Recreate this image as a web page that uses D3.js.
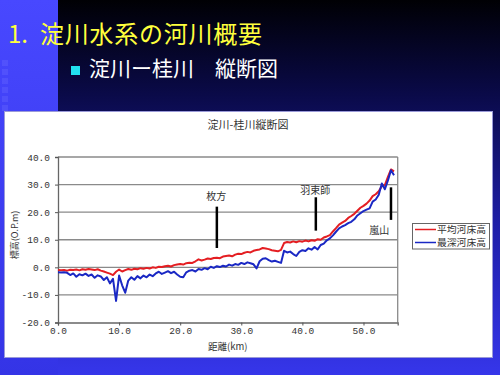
<!DOCTYPE html>
<meta charset="utf-8">
<html lang="ja">
<head>
<meta charset="utf-8">
<script src="https://d3js.org/d3.v7.min.js"></script>
<style>
  body { margin: 0; padding: 0; background: #000; }
  svg { display: block; }
</style>
</head>
<body>
<div id="chart"></div>
<script>
// distance from river mouth (km)
var km = [0,0.5,1,1.5,2,2.5,3,3.5,4,4.5,5,5.5,6,6.5,7,7.5,8,8.5,9,9.5,
  10,10.5,11,11.5,12,12.5,13,13.5,14,14.5,15,15.5,16,16.5,17,17.5,18,18.5,19,19.5,
  20,20.5,21,21.5,22,22.5,23,23.5,24,24.5,25,25.5,26,26.5,27,27.5,28,28.5,29,29.5,
  30,30.5,31,31.5,32,32.5,33,33.5,34,34.5,35,35.5,36,36.5,37,37.5,38,38.5,39,39.5,
  40,40.5,41,41.5,42,42.5,43,43.5,44,44.5,45,45.5,46,46.5,47,47.5,48,48.5,49,49.5,
  50,50.5,51,51.5,52,52.5,53,53.5,54,54.5,55];

// 平均河床高 (O.P.m)
var meanBed = [-1.0,-1.1,-1.0,-1.2,-0.9,-1.0,-0.8,-1.1,-0.7,-0.9,-0.6,-0.8,-1.0,-0.7,-1.2,-1.5,-1.9,-2.3,-2.8,-1.6,
  -0.8,-1.5,-1.0,-0.6,-0.9,-0.5,-0.7,-0.3,-0.5,-0.2,-0.4,0.0,-0.2,0.2,0.1,0.4,0.6,0.3,0.8,1.0,
  1.2,1.0,1.5,1.7,1.6,2.2,2.9,2.5,2.8,3.2,3.0,3.4,3.5,3.3,3.9,4.1,4.3,4.0,4.6,4.9,
  4.8,5.3,5.6,5.4,6.0,6.3,6.5,7.0,6.8,6.6,6.2,6.0,5.8,6.3,8.8,9.2,9.0,9.4,9.1,9.5,
  9.3,9.7,9.4,9.8,9.6,10.2,10.0,10.8,11.2,11.7,13.0,14.2,15.5,16.2,16.8,17.9,18.6,19.4,20.5,21.6,
  22.3,23.1,24.2,25.8,26.5,27.6,29.4,29.8,32.8,35.5,34.8];

// 最深河床高 (O.P.m)
var deepBed = [-1.8,-1.9,-1.8,-2.0,-2.8,-2.2,-3.4,-2.5,-2.9,-2.3,-3.1,-2.6,-3.8,-2.9,-3.3,-4.6,-3.6,-5.8,-4.2,-12.2,
  -3.0,-6.5,-9.2,-4.8,-3.6,-4.5,-3.2,-4.0,-3.0,-3.6,-2.6,-3.2,-2.2,-1.6,-2.4,-1.9,-1.4,-2.1,-1.6,-2.6,
  -3.4,-3.6,-1.8,-1.2,-1.0,-1.5,-0.6,-0.9,-0.3,-0.7,0.2,-0.2,0.4,0.1,0.6,0.3,1.0,0.6,1.2,0.9,
  1.6,1.2,1.8,1.5,1.1,-0.4,2.2,3.1,3.3,2.6,2.1,2.4,2.0,1.6,6.0,5.4,5.7,4.8,4.1,5.6,
  6.2,5.9,6.9,6.4,7.4,6.5,8.1,8.6,9.8,10.5,11.6,12.9,14.1,14.8,15.3,16.0,16.5,17.4,18.8,19.6,
  20.4,20.9,21.4,23.8,24.6,26.3,30.4,28.3,31.5,35.2,33.4];

// landmarks: name, km, marker top / bottom elevation, label km / elevation
var placeNames = ["枚方", "羽束師", "嵐山"];
var placeKm = [26.0, 42.2, 54.5];
var placeTop = [22.0, 25.4, 29.0];
var placeBottom = [7.0, 13.3, 17.2];
var labelKm = [25.9, 42.1, 52.6];
var labelElev = [24.4, 26.6, 12.1];

var yTicks = [40, 30, 20, 10, 0, -10, -20];
var xTicks = [0, 10, 20, 30, 40, 50];
var seriesNames = ["平均河床高", "最深河床高"];
var seriesColors = ["#e41e22", "#1a28c4"];

var width = 500, height = 375;
var svg = d3.select("#chart").append("svg")
  .attr("width", width)
  .attr("height", height);

// slide background
var defs = svg.append("defs");
var bg = defs.append("linearGradient").attr("id", "bg")
  .attr("x1", 0).attr("y1", 0).attr("x2", 0).attr("y2", 1);
bg.append("stop").attr("offset", "0%").attr("stop-color", "#000004");
bg.append("stop").attr("offset", "25%").attr("stop-color", "#0a0a48");
bg.append("stop").attr("offset", "60%").attr("stop-color", "#1e1ea8");
bg.append("stop").attr("offset", "100%").attr("stop-color", "#3636ea");
var strip = defs.append("linearGradient").attr("id", "strip")
  .attr("x1", 0).attr("y1", 0).attr("x2", 0).attr("y2", 1);
strip.append("stop").attr("offset", "0%").attr("stop-color", "#4848ff");
strip.append("stop").attr("offset", "100%").attr("stop-color", "#3434e6");

svg.append("rect").attr("width", width).attr("height", height).attr("fill", "url(#bg)");
svg.append("rect").attr("width", 58).attr("height", height).attr("fill", "url(#strip)");
// faint squares on the left strip
for (var i = 0; i < 6; i++) {
  svg.append("rect")
    .attr("x", 2).attr("y", 60 + i * 9)
    .attr("width", 6).attr("height", 6)
    .attr("fill", "#6a6aff").attr("opacity", 0.35);
}

svg.append("text")
  .attr("x", 8).attr("y", 43)
  .attr("font-family", "'Noto Sans CJK JP', sans-serif")
  .attr("font-size", 24)
  .attr("fill", "#ffff3c")
  .text("1.");
svg.append("text")
  .attr("x", 40).attr("y", 43)
  .attr("font-family", "'Noto Sans CJK JP', sans-serif")
  .attr("font-size", 24)
  .attr("fill", "#ffff3c")
  .attr("textLength", 222)
  .text("淀川水系の河川概要");

svg.append("rect")
  .attr("x", 71).attr("y", 66).attr("width", 9).attr("height", 9)
  .attr("fill", "#22e0f0");
svg.append("text")
  .attr("x", 89).attr("y", 76)
  .attr("font-family", "'Noto Sans CJK JP', sans-serif")
  .attr("font-size", 21)
  .attr("fill", "#ffffff")
  .attr("textLength", 189)
  .text("淀川ー桂川　縦断図");

// white chart panel
svg.append("rect")
  .attr("x", 4.5).attr("y", 111.5).attr("width", 488).attr("height", 246)
  .attr("fill", "#ffffff")
  .attr("stroke", "#9a9ad8");

var x = d3.scaleLinear().domain([0, 55.6]).range([58, 397.7]);
var y = d3.scaleLinear().domain([-20, 40]).range([322.5, 157]);

var monoFont = "'Liberation Mono', 'DejaVu Sans Mono', monospace";
var jpFont = "'Noto Sans CJK JP', sans-serif";

svg.append("text")
  .attr("x", 248).attr("y", 129)
  .attr("text-anchor", "middle")
  .attr("font-family", jpFont)
  .attr("font-size", 11)
  .attr("fill", "#333")
  .text("淀川-桂川縦断図");

// gridlines
svg.append("g").selectAll("line")
  .data(yTicks.filter(function (d) { return d > -20; }))
  .enter().append("line")
  .attr("x1", x(0)).attr("x2", x(55.6))
  .attr("y1", function (d) { return y(d); })
  .attr("y2", function (d) { return y(d); })
  .attr("stroke", "#8a8a8a")
  .attr("stroke-width", 1.3);
svg.append("line")
  .attr("x1", x(55.6)).attr("x2", x(55.6))
  .attr("y1", y(40)).attr("y2", y(-20))
  .attr("stroke", "#8a8a8a").attr("stroke-width", 1.3);

// axes
var yAxis = svg.append("g")
  .attr("transform", "translate(" + x(0) + ",0)")
  .call(d3.axisLeft(y).tickValues(yTicks).tickSize(3).tickPadding(5)
    .tickFormat(function (d) { return d.toFixed(1); }));
var xAxis = svg.append("g")
  .attr("transform", "translate(0," + y(-20) + ")")
  .call(d3.axisBottom(x).tickValues(xTicks).tickSize(3).tickPadding(2)
    .tickFormat(function (d) { return d.toFixed(1); }));
[yAxis, xAxis].forEach(function (a) {
  a.select(".domain").attr("stroke", "#666").attr("stroke-width", 1.3);
  a.selectAll(".tick line").attr("stroke", "#555");
  a.selectAll("text")
    .attr("font-family", monoFont)
    .attr("font-size", 9.5)
    .attr("fill", "#333");
});

svg.append("text")
  .attr("x", (x(0) + x(55.6)) / 2).attr("y", 350)
  .attr("text-anchor", "middle")
  .attr("font-family", jpFont)
  .attr("font-size", 9.5)
  .attr("fill", "#333")
  .text("距離(km)");
svg.append("text")
  .attr("transform", "translate(18,235) rotate(-90)")
  .attr("text-anchor", "middle")
  .attr("font-family", jpFont)
  .attr("font-size", 9)
  .attr("fill", "#333")
  .text("標高(O.P.m)");

// series
var line = d3.line()
  .x(function (d) { return x(d[0]); })
  .y(function (d) { return y(d[1]); });
[meanBed, deepBed].forEach(function (vals, s) {
  svg.append("path")
    .datum(km.map(function (k, i) { return [k, vals[i]]; }))
    .attr("d", line)
    .attr("fill", "none")
    .attr("stroke", seriesColors[s])
    .attr("stroke-width", 2)
    .attr("stroke-linejoin", "round");
});

// landmark markers
placeNames.forEach(function (name, i) {
  svg.append("line")
    .attr("x1", x(placeKm[i])).attr("x2", x(placeKm[i]))
    .attr("y1", y(placeTop[i])).attr("y2", y(placeBottom[i]))
    .attr("stroke", "#000").attr("stroke-width", 2.5);
  svg.append("text")
    .attr("x", x(labelKm[i])).attr("y", y(labelElev[i]))
    .attr("text-anchor", "middle")
    .attr("font-family", jpFont)
    .attr("font-size", 10)
    .attr("fill", "#333")
    .text(name);
});

// legend
var legend = svg.append("g");
legend.append("rect")
  .attr("x", 412.5).attr("y", 223.5).attr("width", 77).attr("height", 25.5)
  .attr("fill", "#fff").attr("stroke", "#666");
seriesNames.forEach(function (name, i) {
  legend.append("line")
    .attr("x1", 415).attr("x2", 436)
    .attr("y1", 229.5 + i * 13).attr("y2", 229.5 + i * 13)
    .attr("stroke", seriesColors[i]).attr("stroke-width", 1.5);
  legend.append("text")
    .attr("x", 437).attr("y", 233 + i * 13)
    .attr("font-family", jpFont)
    .attr("font-size", 9.5)
    .attr("fill", "#333")
    .attr("textLength", 49)
    .attr("lengthAdjust", "spacingAndGlyphs")
    .text(name);
});
</script>
</body>
</html>
